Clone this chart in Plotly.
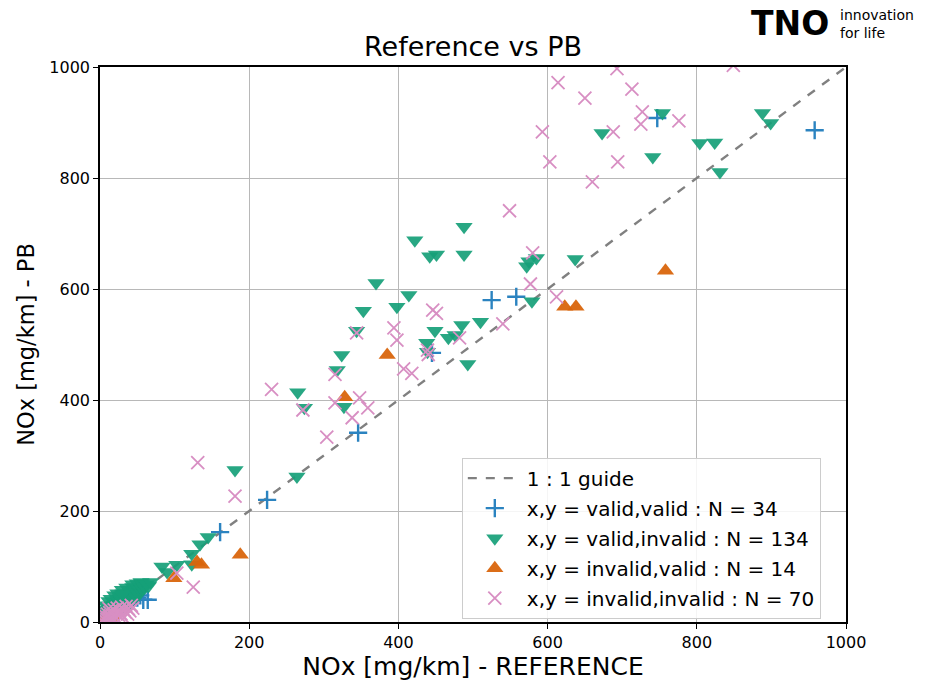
import plotly.graph_objects as go

# ---------------- data ----------------
guide_x = [0, 1000]
guide_y = [0, 1000]

vv_x = [747, 958, 525, 558, 445, 346, 224, 161, 58, 64,
        2, 4, 6, 7, 9, 11, 12, 14, 16, 18, 20, 22, 24, 26, 28, 30, 33, 36, 38, 42, 46, 50, 54, 10]
vv_y = [908, 886, 580, 586, 485, 341, 220, 162, 40, 40,
        2, 5, 5, 8, 9, 10, 13, 15, 15, 19, 21, 20, 25, 27, 26, 31, 32, 37, 36, 41, 45, 44, 48, 6]

vi_x = [488, 422, 442, 451, 488, 572, 575, 585, 637, 370, 414, 398, 353, 579, 449, 485, 510, 467, 476, 438,
        439, 493, 344, 324, 318, 265, 274, 327, 754, 673, 741, 888, 899, 804, 824, 831, 181, 264, 145, 134,
        123, 123, 103, 83, 90, 56, 44, 31,
        8, 12, 4, 15, 5, 20, 7, 7, 8, 24,
        9, 10, 10, 30, 12, 12, 36, 14, 14, 15,
        44, 16, 17, 17, 50, 19, 20, 20, 55, 22,
        23, 24, 24, 25, 26, 27, 28, 28, 29, 30,
        31, 32, 33, 33, 34, 35, 36, 37, 38, 39,
        40, 41, 42, 43, 44, 45, 46, 47, 48, 49,
        50, 51, 52, 54, 55, 57, 58, 60, 62, 65,
        68, 6, 9, 11, 13, 16, 18, 21, 23, 26,
        3, 1, 4, 19, 27, 30]
vi_y = [712, 688, 659, 662, 662, 641, 650, 656, 654, 611, 589, 568, 561, 578, 525, 535, 541, 512, 517, 503,
        487, 465, 525, 481, 454, 414, 386, 388, 917, 881, 838, 917, 899, 863, 864, 811, 274, 262, 153, 140,
        123, 104, 103, 100, 90, 70, 63, 52,
        30, 38, 6, 42, 10, 48, 9, 14, 18, 52,
        12, 16, 22, 58, 14, 20, 62, 18, 24, 12,
        68, 22, 27, 19, 70, 24, 30, 16, 72, 26,
        33, 21, 40, 29, 36, 24, 42, 32, 27, 38,
        45, 30, 36, 48, 41, 33, 44, 38, 50, 42,
        35, 47, 53, 40, 49, 44, 56, 51, 46, 58,
        53, 60, 49, 57, 63, 59, 66, 62, 68, 65,
        72, 4, 7, 9, 11, 13, 15, 18, 20, 23,
        3, 5, 2, 31, 45, 50]

iv_x = [758, 623, 638, 385, 328, 188, 130, 136, 99, 5, 8, 11, 14, 18]
iv_y = [633, 568, 568, 481, 405, 121, 108, 103, 79, 2, 4, 4, 9, 12]

ii_x = [693, 614, 650, 713, 727, 725, 776, 593, 688, 603, 694, 660, 549, 580, 577, 612, 540, 849, 446, 451,
        394, 398, 344, 439, 482, 407, 418, 315, 348, 359, 315, 272, 338, 230, 304, 131, 181, 125, 103, 440,
        3, 5, 6, 8, 9, 10, 12, 13, 14, 15, 16, 18, 19, 20, 22, 23, 25, 26, 28, 29,
        30, 32, 34, 35, 37, 38, 40, 42, 44, 12]
ii_y = [997, 972, 944, 960, 919, 897, 903, 883, 883, 829, 829, 793, 741, 665, 609, 586, 537, 1003, 562, 556,
        530, 508, 521, 490, 512, 456, 448, 446, 404, 386, 395, 382, 368, 419, 333, 287, 227, 63, 88, 482,
        2, 6, 3, 10, 5, 14, 8, 17, 11, 20, 6, 13, 22, 9, 16, 25, 12, 20, 15, 27,
        10, 22, 18, 28, 14, 24, 20, 30, 25, 24]

tick_vals = [0, 200, 400, 600, 800, 1000]

# ---------------- styles ----------------
C_BLUE = "#2b83c0"
C_GREEN = "#16a078"
C_ORANGE = "#d9650c"
C_PINK = "#d88fc3"

fig = go.Figure()

fig.add_trace(go.Scatter(
    x=guide_x, y=guide_y, mode="lines", name="1 : 1 guide",
    line=dict(color="#808080", width=2.4, dash="dash"), legendgroup="g0"))

fig.add_trace(go.Scatter(
    x=vv_x, y=vv_y, mode="markers",
    name="x,y = valid,valid : N = %d" % len(vv_x), legendgroup="g1",
    marker=dict(symbol="cross-thin", size=13, color=C_BLUE,
                line=dict(color=C_BLUE, width=2.4))))

fig.add_trace(go.Scatter(
    x=vi_x, y=vi_y, mode="markers",
    name="x,y = valid,invalid : N = %d" % len(vi_x), legendgroup="g2",
    marker=dict(symbol="triangle-down", size=15, color=C_GREEN, opacity=0.92,
                line=dict(width=0))))

fig.add_trace(go.Scatter(
    x=iv_x, y=iv_y, mode="markers",
    name="x,y = invalid,valid : N = %d" % len(iv_x), legendgroup="g3",
    marker=dict(symbol="triangle-up", size=15, color=C_ORANGE, opacity=0.95,
                line=dict(width=0))))

fig.add_trace(go.Scatter(
    x=ii_x, y=ii_y, mode="markers",
    name="x,y = invalid,invalid : N = %d" % len(ii_x), legendgroup="g4",
    marker=dict(symbol="x-thin", size=13, color=C_PINK,
                line=dict(color=C_PINK, width=1.8))))

axis_common = dict(
    range=[0, 1000], tickvals=tick_vals, showgrid=True, gridcolor="#b8b8b8", gridwidth=1.2,
    showline=True, linecolor="black", linewidth=1.5, mirror=True,
    ticks="outside", ticklen=5, tickcolor="black", tickwidth=1,
    tickfont=dict(family="DejaVu Sans", size=16, color="black"),
    zeroline=False,
)

fig.update_layout(
    width=930, height=686,
    margin=dict(l=100, r=84, t=67, b=64),
    paper_bgcolor="white", plot_bgcolor="white",
    font=dict(family="DejaVu Sans", color="black"),
    title=dict(text="Reference vs PB", x=0.5086, xanchor="center", y=0.9315, yanchor="middle",
               font=dict(family="DejaVu Sans", size=27, color="black")),
    xaxis=dict(axis_common, title=dict(text="NOx [mg/km] - REFERENCE", standoff=6,
                                       font=dict(family="DejaVu Sans", size=25))),
    yaxis=dict(axis_common, title=dict(text="NOx [mg/km] - PB", standoff=8,
                                       font=dict(family="DejaVu Sans", size=22.5))),
    legend=dict(x=0.485, y=0.006, xanchor="left", yanchor="bottom",
                bgcolor="rgba(255,255,255,0.85)", bordercolor="#cccccc", borderwidth=1,
                font=dict(family="DejaVu Sans", size=20, color="black"),
                tracegroupgap=1, itemwidth=54),
    showlegend=True,
)

fig.add_annotation(xref="paper", yref="paper", x=0.979, y=1.079, xanchor="right", yanchor="middle",
                   text="<b>TNO</b>", showarrow=False, borderpad=0,
                   font=dict(family="DejaVu Sans", size=33, color="black"))
fig.add_annotation(xref="paper", yref="paper", x=0.991, y=1.077, xanchor="left", yanchor="middle",
                   text="innovation<br>for life", showarrow=False, borderpad=0, align="left",
                   font=dict(family="DejaVu Sans", size=14, color="black"))

fig.write_html("out.html", config={"displayModeBar": False},
               post_script="document.body.style.margin='0';")
